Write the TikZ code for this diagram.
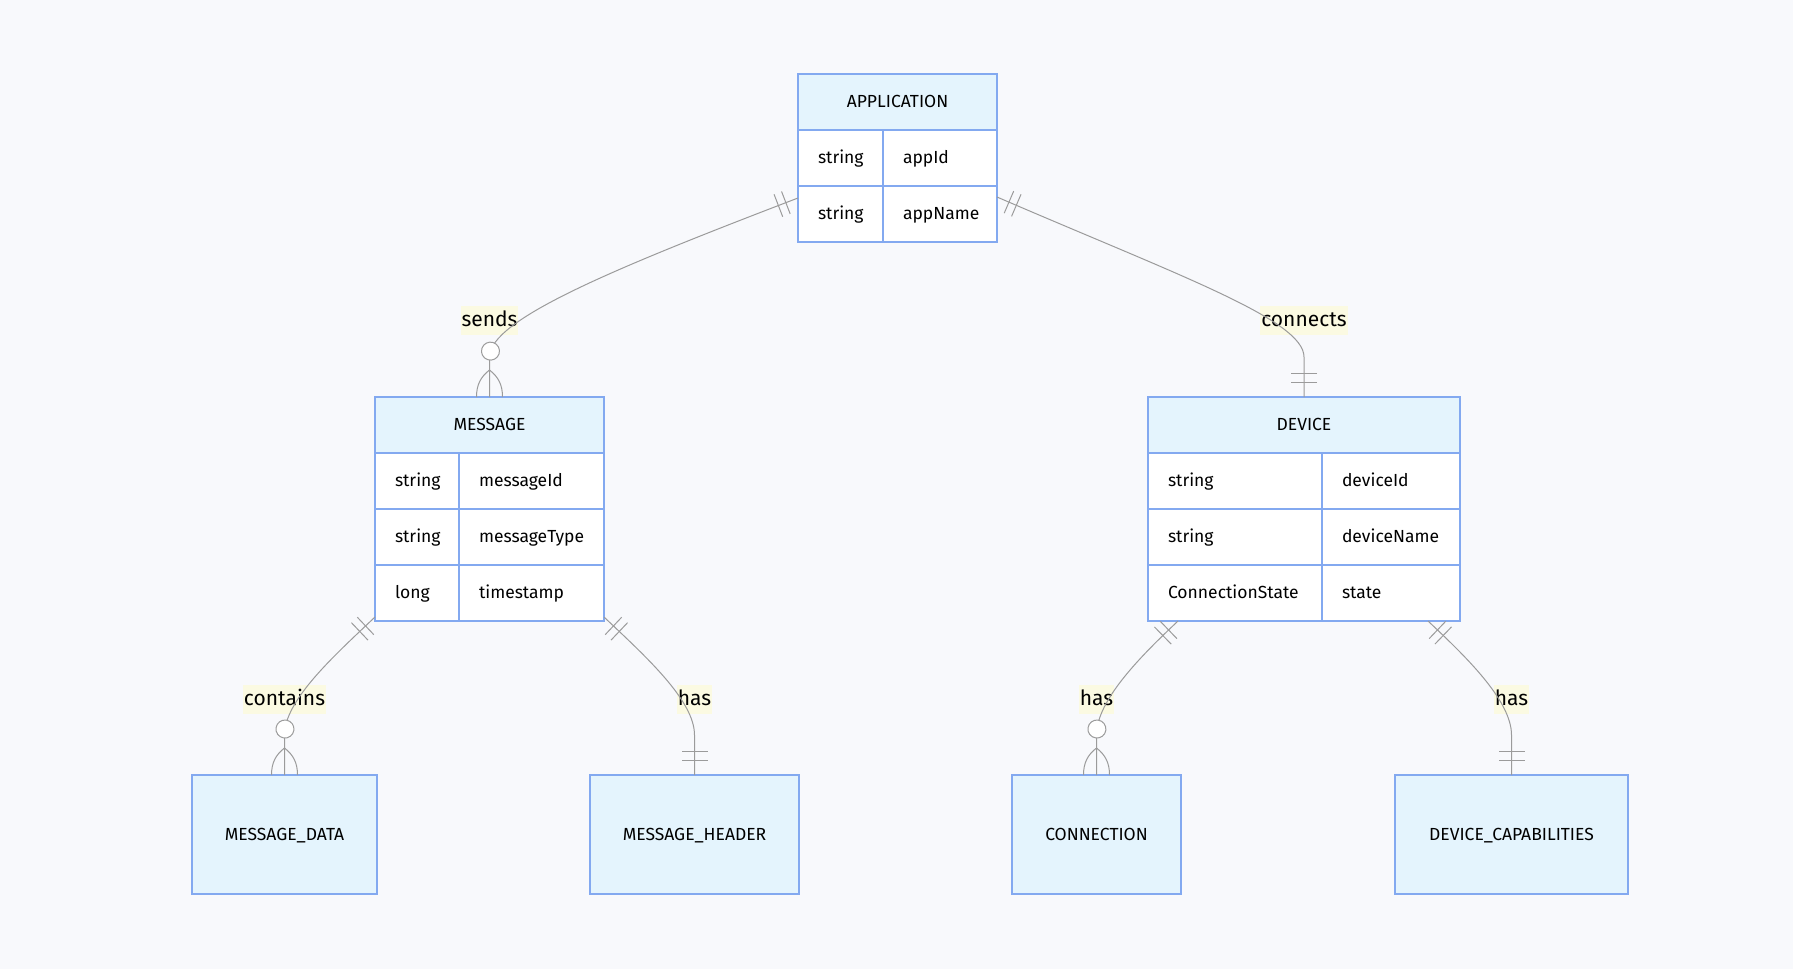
\documentclass[tikz,border=0pt]{standalone}
\usepackage{fontspec}
\setmainfont{Fira Sans}
\usetikzlibrary{positioning, calc, decorations.markings}
\definecolor{erblue}{RGB}{131,169,240}
\definecolor{erhead}{RGB}{228,244,253}
\definecolor{relgray}{RGB}{155,155,155}
\definecolor{lblbg}{RGB}{251,250,226}
\definecolor{bgcol}{RGB}{248,249,252}
\tikzset{
  ehead/.style={rectangle, draw=erblue, fill=erhead, line width=2pt, outer sep=0pt, inner sep=0pt, minimum height=56pt, text height=15pt, text depth=4pt, font=\fontsize{17.5}{20}\selectfont},
  ecell/.style={rectangle, draw=erblue, fill=white, line width=2pt, outer sep=0pt, inner xsep=20pt, inner ysep=0pt, minimum height=56pt, text width=#1pt, align=left, text height=15pt, text depth=4pt, font=\fontsize{17.5}{20}\selectfont},
  ebox/.style={ehead, minimum height=119pt},
  rel/.style={draw=relgray, line width=1pt},
  relmark/.style={draw=relgray, line width=1pt},
  rlabel/.style={fill=lblbg, inner xsep=1pt, inner ysep=2pt, text height=19pt, text depth=6pt, font=\fontsize{21}{25}\selectfont},
  onestart/.style={postaction={decorate, decoration={markings,
      mark=at position 13pt with {\draw[relmark] (0,-12) -- (0,12);},
      mark=at position 21pt with {\draw[relmark] (0,-12) -- (0,12);}}}},
  oneend/.style={postaction={decorate, decoration={markings,
      mark=at position -24pt with {\draw[relmark] (0,-13) -- (0,13);},
      mark=at position -15pt with {\draw[relmark] (0,-13) -- (0,13);}}}},
  manyend/.style={postaction={decorate, decoration={markings,
      mark=at position -46pt with {\draw[relmark, fill=white] (0,0) circle (9pt);},
      mark=at position -27pt with {\draw[relmark] (0,0) .. controls (7,9) and (15,13) .. (27,13) (0,0) .. controls (7,-9) and (15,-13) .. (27,-13);}}}}
}

\begin{document}
\begin{tikzpicture}[x=1pt, y=-1pt]

	\fill[bgcol] (0,0) rectangle (1793,969);

	% APPLICATION
	\node (app) [ehead, minimum width=199pt] at (897.5,102) {APPLICATION};
	\node (app1t) [ecell=45, below right=0pt and 0pt of app.south west] {string};
	\node (app1n) [ecell=74, right=0pt of app1t] {appId};
	\node (app2t) [ecell=45, below=0pt of app1t] {string};
	\node (app2n) [ecell=74, right=0pt of app2t] {appName};

	% MESSAGE
	\node (msg) [ehead, minimum width=229pt] at (489.5,425) {MESSAGE};
	\node (msg1t) [ecell=44, below right=0pt and 0pt of msg.south west] {string};
	\node (msg1n) [ecell=105, right=0pt of msg1t] {messageId};
	\node (msg2t) [ecell=44, below=0pt of msg1t] {string};
	\node (msg2n) [ecell=105, right=0pt of msg2t] {messageType};
	\node (msg3t) [ecell=44, below=0pt of msg2t] {long};
	\node (msg3n) [ecell=105, right=0pt of msg3t] {timestamp};

	% DEVICE
	\node (dev) [ehead, minimum width=312pt] at (1304,425) {DEVICE};
	\node (dev1t) [ecell=134, below right=0pt and 0pt of dev.south west] {string};
	\node (dev1n) [ecell=98, right=0pt of dev1t] {deviceId};
	\node (dev2t) [ecell=134, below=0pt of dev1t] {string};
	\node (dev2n) [ecell=98, right=0pt of dev2t] {deviceName};
	\node (dev3t) [ecell=134, below=0pt of dev2t] {ConnectionState};
	\node (dev3n) [ecell=98, right=0pt of dev3t] {state};

	% Entities without attributes
	\node (mdata) [ebox, minimum width=185pt] at (284.5,834.5) {MESSAGE\_DATA};
	\node (mhead) [ebox, minimum width=209pt] at (694.5,834.5) {MESSAGE\_HEADER};
	\node (conn) [ebox, minimum width=169pt] at (1096.5,834.5) {CONNECTION};
	\node (caps) [ebox, minimum width=233pt] at (1511.5,834.5) {DEVICE\_CAPABILITIES};

	% Relationship labels
	\node (sends) [rlabel] at (489.5,320) {sends};
	\node (connects) [rlabel] at (1304,320) {connects};
	\node (contains) [rlabel] at (284.5,699) {contains};
	\node (hasmh) [rlabel] at (694.5,699) {has};
	\node (hascon) [rlabel] at (1096.5,699) {has};
	\node (hascap) [rlabel] at (1511.5,699) {has};

	% Relationships
	\draw[rel, onestart, manyend] ([yshift=-12pt]app2t.north west) .. controls +(-188,72) and +(0,-37) .. ([yshift=40pt]msg.north) -- (msg.north);
	\draw[rel, onestart, oneend] ([yshift=-11pt]app2n.north east) .. controls +(183,79) and +(0,-37) .. ([yshift=40pt]dev.north) -- (dev.north);
	\draw[rel, onestart, manyend] ([yshift=4pt]msg3t.south west) .. controls +(-40,38) and +(0,-35) .. ([yshift=40pt]mdata.north) -- (mdata.north);
	\draw[rel, onestart, oneend] ([yshift=4pt]msg3n.south east) .. controls +(40,38) and +(0,-35) .. ([yshift=40pt]mhead.north) -- (mhead.north);
	\draw[rel, onestart, manyend] ([xshift=30pt]dev3t.south west) .. controls +(-36,34) and +(0,-35) .. ([yshift=40pt]conn.north) -- (conn.north);
	\draw[rel, onestart, oneend] ([xshift=-32pt]dev3n.south east) .. controls +(36,34) and +(0,-35) .. ([yshift=40pt]caps.north) -- (caps.north);

\end{tikzpicture}
\end{document}
